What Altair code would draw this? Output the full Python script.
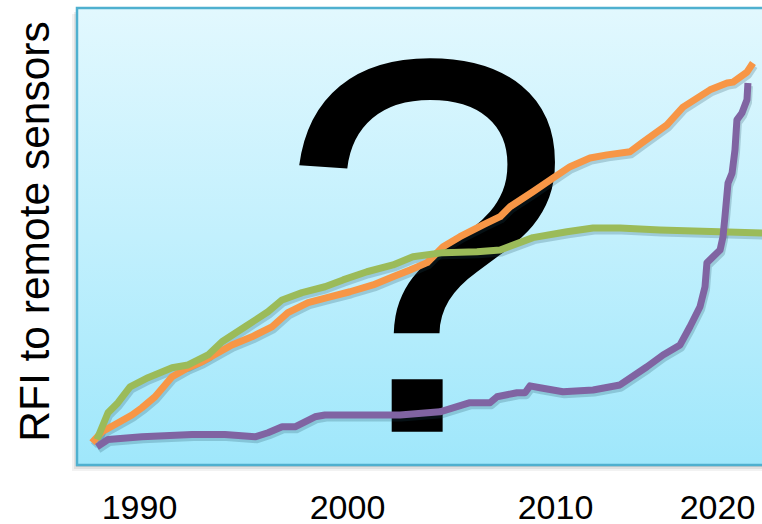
import altair as alt
import pandas as pd

# ---------------- data ----------------
tick_years = [1990, 2000, 2010, 2020]
y_title = "RFI to remote sensors"

orange_year = [1987.74, 1988.22, 1988.85, 1989.66, 1990.14, 1990.77, 1991.59, 1992.36, 1993.03,
               1993.80, 1994.47, 1995.43, 1996.39, 1997.16, 1998.13, 1999.04, 2000.14, 2001.25,
               2002.21, 2003.03, 2003.85, 2004.62, 2005.43, 2006.54, 2007.36, 2007.84, 2008.94,
               2009.90, 2010.93, 2012.16, 2013.21, 2014.63, 2015.43, 2016.91, 2017.90, 2019.57,
               2020.62, 2020.99, 2021.85, 2022.22]
orange_value = [4.4, 6.8, 8.4, 10.5, 12.1, 14.5, 18.9, 20.9, 22.2,
                24.2, 25.9, 27.7, 29.9, 33.0, 35.2, 36.3, 37.6, 39.1,
                40.9, 42.4, 44.0, 47.5, 49.7, 52.3, 54.1, 56.3, 59.6,
                62.6, 65.1, 67.0, 67.7, 68.4, 70.5, 74.3, 78.2, 82.0,
                83.5, 83.7, 85.9, 87.9]

green_year = [1987.98, 1988.51, 1988.99, 1989.57, 1990.43, 1991.59, 1992.36, 1993.32, 1993.99,
              1995.10, 1996.20, 1996.88, 1997.84, 1998.94, 1999.81, 2000.96, 2002.21, 2003.17,
              2004.62, 2006.25, 2007.36, 2008.94, 2010.74, 2012.35, 2014.01, 2016.48, 2022.78]
green_value = [5.1, 11.0, 13.2, 16.7, 18.7, 20.9, 21.5, 23.7, 26.6,
               29.9, 33.2, 35.8, 37.4, 38.7, 40.2, 42.0, 43.5, 45.3,
               46.2, 46.4, 46.8, 49.5, 50.8, 51.6, 51.6, 51.2, 50.5]

purple_year = [1987.98, 1988.51, 1990.14, 1992.55, 1994.13, 1995.58, 1996.20, 1996.88, 1997.50,
               1998.46, 1998.94, 2002.55, 2004.47, 2005.91, 2006.88, 2007.21, 2008.17, 2008.56,
               2008.80, 2009.28, 2010.49, 2012.35, 2014.01, 2015.68, 2016.67, 2017.72, 2018.33,
               2018.95, 2019.26, 2019.38, 2020.19, 2020.37, 2020.49, 2020.68, 2020.93, 2021.11,
               2021.23, 2021.54, 2021.85, 2021.91]
purple_value = [3.5, 5.1, 5.7, 6.2, 6.2, 5.7, 6.6, 7.9, 7.9,
                10.1, 10.5, 10.5, 11.2, 13.2, 13.2, 14.5, 15.4, 15.4,
                16.9, 16.5, 15.6, 16.0, 17.1, 21.1, 23.7, 25.9, 29.9,
                34.3, 38.7, 44.0, 46.8, 49.7, 54.1, 61.5, 63.7, 68.8,
                75.4, 76.9, 79.8, 83.5]

question_text = ["?"]
question_year = [2003.8]
question_value = [6.8]

# ---------------- layout ----------------
W, H = 685, 457
ORANGE, GREEN, PURPLE = "#F79646", "#9BBB59", "#8064A2"

x_scale = alt.Scale(domain=[1990, 2000, 2010, 2020], range=[62, 270, 478, 640],
                    zero=False, nice=False)
y_scale = alt.Scale(domain=[-0.5, 100], zero=False, nice=False)

x_axis = alt.Axis(values=tick_years, format="d", title=None, grid=False, domain=False,
                  ticks=False, labelFontSize=34, labelFont="Liberation Sans",
                  labelColor="black", labelPadding=53, labelBaseline="alphabetic",
                  labelFlush=False)
y_axis = alt.Axis(title=y_title, labels=False, ticks=False, domain=False, grid=False,
                  titleFontSize=42.5, titleFont="Liberation Sans", titleFontWeight="normal",
                  titleColor="black", titlePadding=29, titleBaseline="alphabetic",
                  titleY=223)

x_enc = alt.X("year:Q", scale=x_scale, axis=x_axis)
y_enc = alt.Y("value:Q", scale=y_scale, axis=y_axis)

one_row = pd.DataFrame({"k": [0]})

# soft frame shadow
shadows = []
for off, op in [(6, 0.05), (4, 0.07), (2, 0.09)]:
    shadows.append(
        alt.Chart(one_row).mark_rect(color="#000000", opacity=op).encode(
            x=alt.value(-off + 1), x2=alt.value(W + 10),
            y=alt.value(off), y2=alt.value(H + off))
    )

gradient = alt.Gradient(
    gradient="linear",
    stops=[alt.GradientStop(color="#e2f8fe", offset=0),
           alt.GradientStop(color="#c2f0fd", offset=0.5),
           alt.GradientStop(color="#9fe7fb", offset=1)],
    x1=0, x2=0, y1=0, y2=1)

background = alt.Chart(one_row).mark_rect(
    color=gradient, stroke="#4fb0cf", strokeWidth=2.5).encode(
    x=alt.value(0), x2=alt.value(W + 10), y=alt.value(0), y2=alt.value(H))

qdf = pd.DataFrame({"year": question_year, "value": question_value, "t": question_text})
question = alt.Chart(qdf).mark_text(
    font="Liberation Sans", fontSize=535, baseline="alphabetic", align="center",
    color="black").encode(x=x_enc, y=y_enc, text="t:N")

series = [(orange_year, orange_value, ORANGE),
          (green_year, green_value, GREEN),
          (purple_year, purple_value, PURPLE)]

line_shadows = []
lines = []
for yrs, vals, col in series:
    df = pd.DataFrame({"year": yrs, "value": vals})
    line_shadows.append(
        alt.Chart(df).mark_line(color="#1d4a5c", opacity=0.22, strokeWidth=7,
                                xOffset=1.5, yOffset=3, strokeJoin="round").encode(
            x=x_enc, y=y_enc))
    lines.append(
        alt.Chart(df).mark_line(color=col, strokeWidth=7, strokeJoin="round").encode(
            x=x_enc, y=y_enc))

chart = alt.layer(*shadows, background, question, *line_shadows, *lines).properties(
    width=W, height=H,
    padding={"left": 77, "top": 8, "right": 0, "bottom": 59},
    autosize=alt.AutoSizeParams(type="none"),
    background="white",
).configure_view(stroke=None)

chart.save("out.html", embed_options={"renderer": "svg", "actions": False})
